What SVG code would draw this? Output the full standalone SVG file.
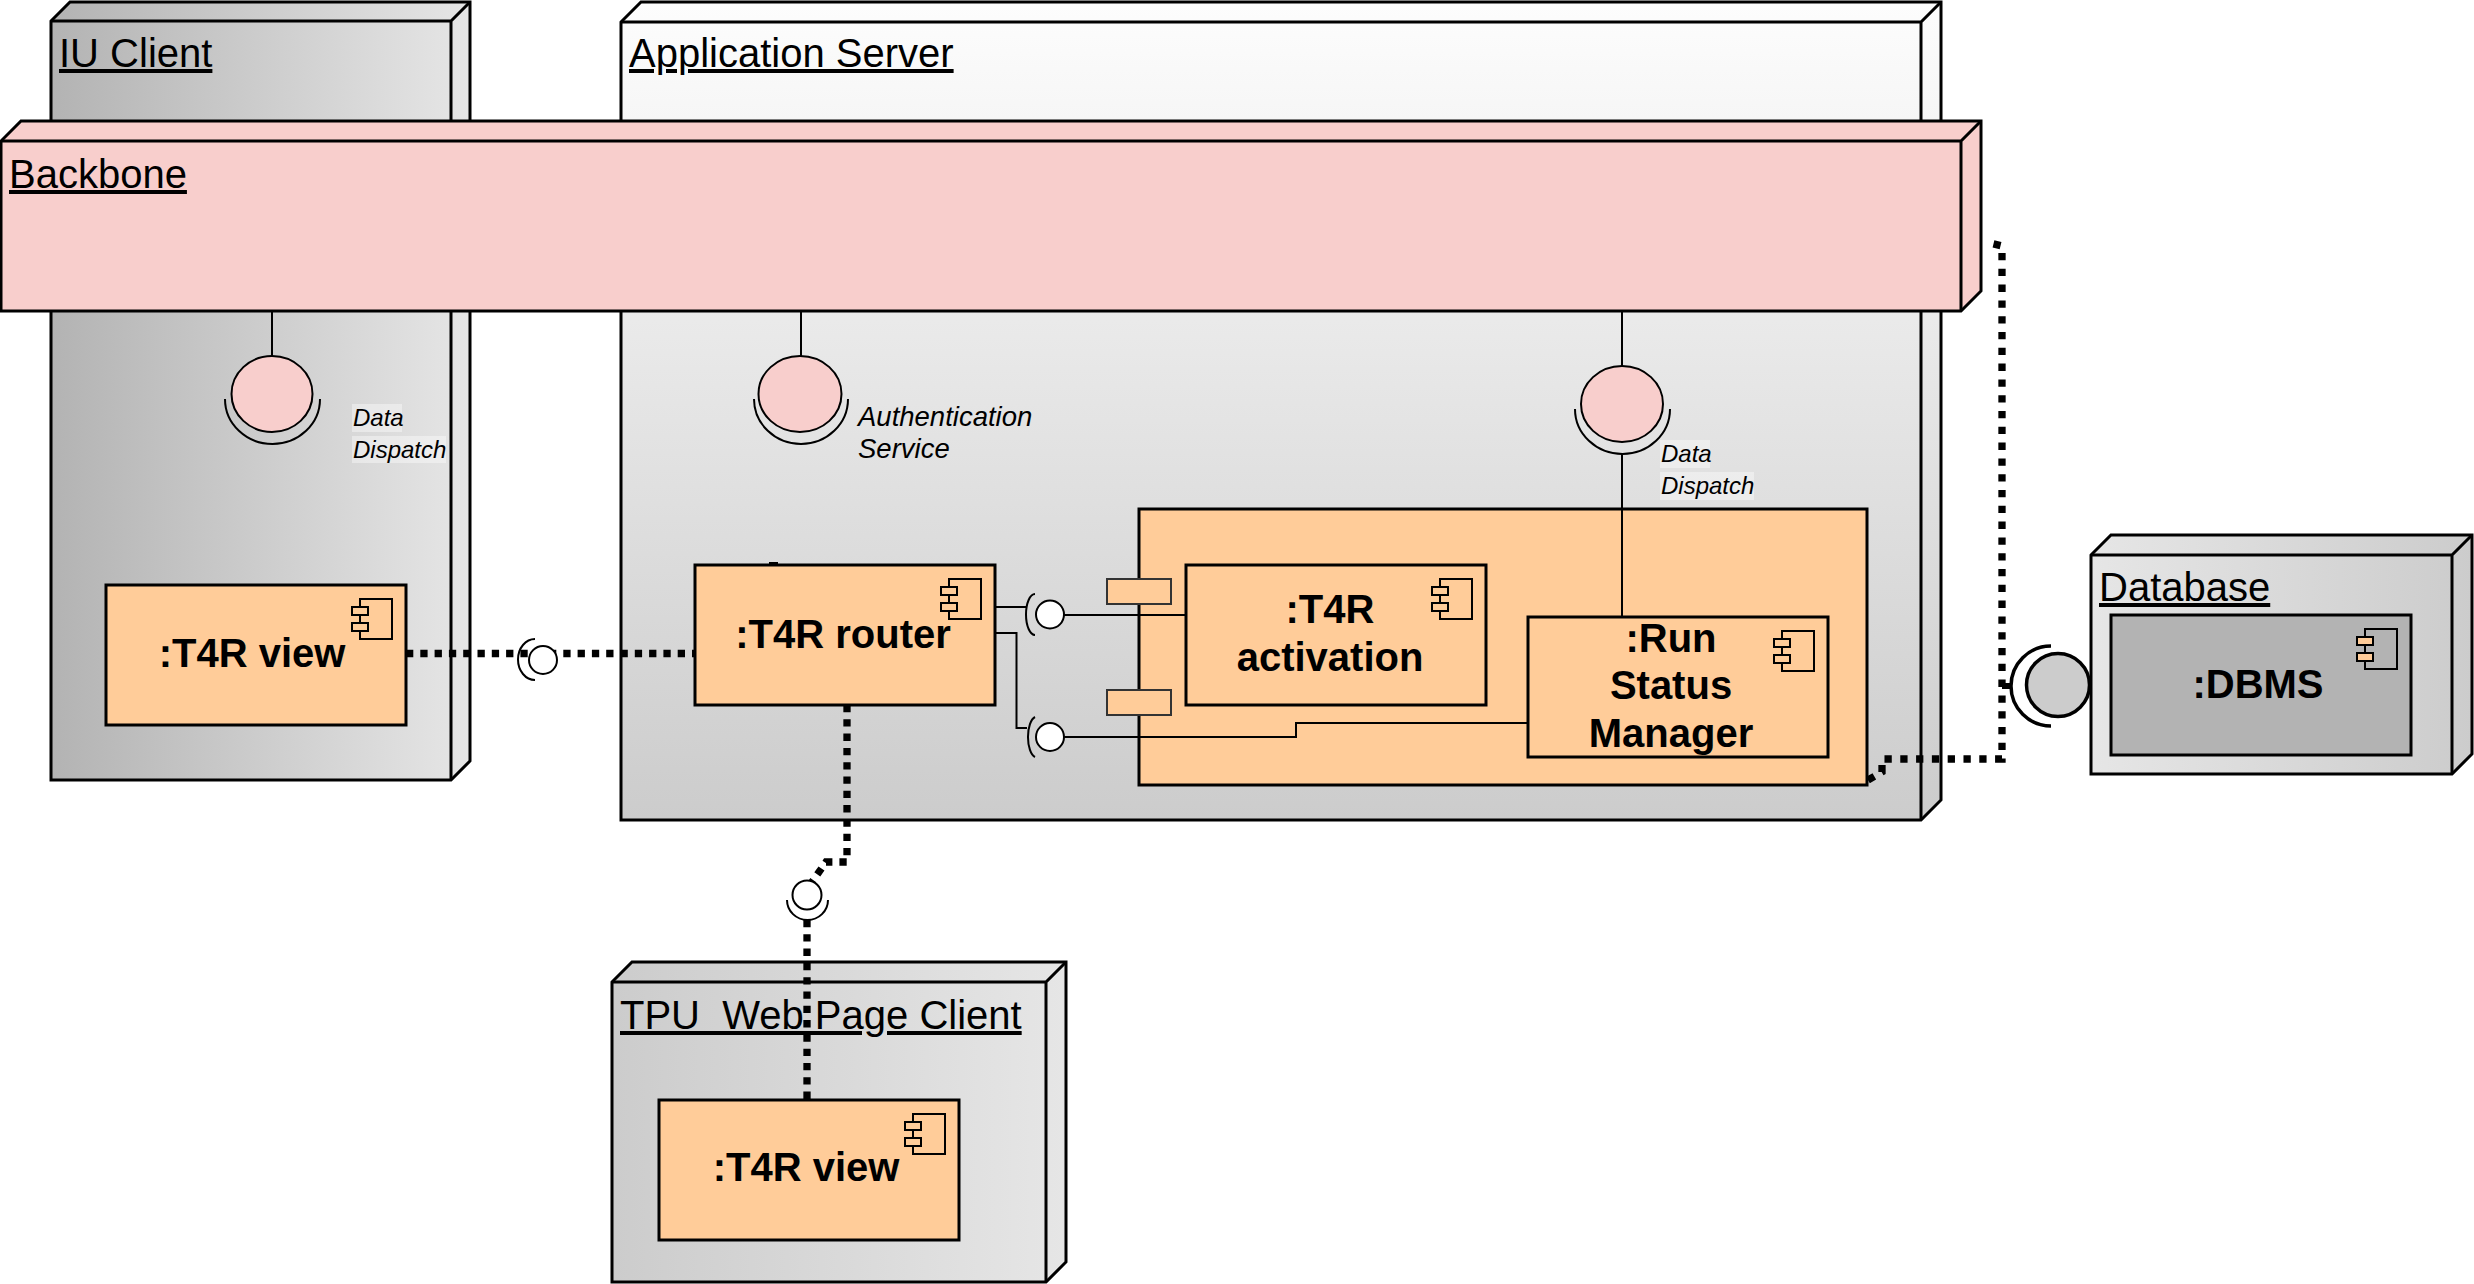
<svg xmlns="http://www.w3.org/2000/svg" width="2474" height="1284" viewBox="0 0 2474 1284">
<style>
.node{stroke:#000;stroke-width:3;stroke-linejoin:miter}
.inner{fill:none;stroke:#000;stroke-width:3}
.nlabel{font-family:"Liberation Sans",Arial,sans-serif;font-size:40px;text-decoration:underline;fill:#000}
.comp{fill:#ffcc99;stroke:#000;stroke-width:3}
.clabel{font-family:"Liberation Sans",Arial,sans-serif;font-size:40px;font-weight:bold;fill:#000;text-anchor:middle}
.ilabel{font-family:"Liberation Sans",Arial,sans-serif;font-size:24px;font-style:italic;fill:#000}
.lbg{fill:#ffffff;opacity:0.4}
.wire{fill:none;stroke:#000;stroke-width:2}
.dots{fill:none;stroke:#000;stroke-width:7.3;stroke-dasharray:7.3 7}
.sock{fill:none;stroke:#000;stroke-width:2}
.ballp{fill:#f8cecc;stroke:#000;stroke-width:2}
.ballw{fill:#ffffff;stroke:#000;stroke-width:2}
.port{fill:#ffcc99;stroke:#333;stroke-width:2}
.ico{fill:none;stroke:#000;stroke-width:2}
.icos{fill:#ffcc99;stroke:#000;stroke-width:2}
</style>
<defs>
<linearGradient id="gIU" x1="0" y1="0" x2="1" y2="0"><stop offset="0" stop-color="#b3b3b3"/><stop offset="1" stop-color="#e6e6e6"/></linearGradient>
<linearGradient id="gApp" x1="0" y1="0" x2="0" y2="1"><stop offset="0" stop-color="#fdfdfd"/><stop offset="1" stop-color="#cccccc"/></linearGradient>
<linearGradient id="gTPU" x1="0" y1="0" x2="1" y2="0"><stop offset="0" stop-color="#cccccc"/><stop offset="1" stop-color="#e6e6e6"/></linearGradient>
<linearGradient id="gDB" x1="0" y1="0" x2="1" y2="0"><stop offset="0" stop-color="#e6e6e6"/><stop offset="1" stop-color="#cccccc"/></linearGradient>
<g id="icon">
<rect class="ico" x="-46" y="14" width="32" height="40" fill="none"/>
<rect class="icos" x="-54" y="22" width="16" height="8"/>
<rect class="icos" x="-54" y="38" width="16" height="8"/>
</g>
</defs>

<g id="iu-client">
<path class="node" fill="url(#gIU)" d="M51,21 L70,2 L470,2 L470,761 L451,780 L51,780 Z"/>
<path class="inner" d="M51,21 L451,21 L470,2 M451,21 L451,780"/>
<text class="nlabel" x="59" y="67">IU Client</text>
</g>

<g id="app-server">
<path class="node" fill="url(#gApp)" d="M621,22 L641,2 L1941,2 L1941,800 L1921,820 L621,820 Z"/>
<path class="inner" d="M621,22 L1921,22 L1941,2 M1921,22 L1921,820"/>
<text class="nlabel" x="629" y="67">Application Server</text>
</g>

<g id="backbone">
<path class="node" fill="#f8cecc" d="M1,141 L21,121 L1981,121 L1981,291 L1961,311 L1,311 Z"/>
<path class="inner" d="M1,141 L1961,141 L1981,121 M1961,141 L1961,311"/>
<text class="nlabel" x="9" y="188">Backbone</text>
</g>

<g id="tpu-client">
<path class="node" fill="url(#gTPU)" d="M612,982 L632,962 L1066,962 L1066,1262 L1046,1282 L612,1282 Z"/>
<path class="inner" d="M612,982 L1046,982 L1066,962 M1046,982 L1046,1282"/>
<text class="nlabel" x="620" y="1029" xml:space="preserve">TPU  Web Page Client</text>
</g>

<g id="database">
<path class="node" fill="url(#gDB)" d="M2091,555 L2111,535 L2472,535 L2472,754 L2452,774 L2091,774 Z"/>
<path class="inner" d="M2091,555 L2452,555 L2472,535 M2452,555 L2452,774"/>
<text class="nlabel" x="2099" y="601">Database</text>
</g>

<g id="dbms">
<rect x="2111" y="615" width="300" height="140" fill="#b3b3b3" stroke="#000" stroke-width="3"/>
<use href="#icon" transform="translate(2411,615)"/>
<text class="clabel" x="2258" y="698">:DBMS</text>
</g>

<g id="iu-view">
<rect class="comp" x="106" y="585" width="300" height="140"/>
<use href="#icon" transform="translate(406,585)"/>
<text class="clabel" x="252" y="667">:T4R view</text>
</g>

<g id="tpu-view">
<rect class="comp" x="659" y="1100" width="300" height="140"/>
<use href="#icon" transform="translate(959,1100)"/>
<text class="clabel" x="806" y="1181">:T4R view</text>
</g>

<g id="container">
<rect class="comp" x="1139" y="509" width="728" height="276"/>
<rect class="port" x="1107" y="579" width="64" height="25"/>
<rect class="port" x="1107" y="690" width="64" height="25"/>
</g>

<g id="router">
<rect class="comp" x="695" y="565" width="300" height="140"/>
<use href="#icon" transform="translate(995,565)"/>
<text class="clabel" x="843" y="648">:T4R router</text>
</g>

<g id="activation">
<rect class="comp" x="1186" y="565" width="300" height="140"/>
<use href="#icon" transform="translate(1486,565)"/>
<text class="clabel" x="1330" y="623">:T4R</text>
<text class="clabel" x="1330" y="671">activation</text>
</g>

<g id="run-status-manager">
<rect class="comp" x="1528" y="617" width="300" height="140"/>
<use href="#icon" transform="translate(1828,617)"/>
<text class="clabel" x="1671" y="652">:Run</text>
<text class="clabel" x="1671" y="699">Status</text>
<text class="clabel" x="1671" y="747">Manager</text>
</g>

<g id="connectors">
<path class="wire" d="M272,311 L272,356"/>
<path class="sock" d="M225,399 A47.5,45 0 0 0 320,399"/>
<ellipse class="ballp" cx="272" cy="394" rx="40.5" ry="38"/>
<rect class="lbg" x="352" y="404" width="50" height="28"/>
<rect class="lbg" x="352" y="436" width="94" height="27"/>
<text class="ilabel" x="353" y="426">Data</text>
<text class="ilabel" x="353" y="458">Dispatch</text>

<path class="wire" d="M801,311 L801,356"/>
<path class="sock" d="M754,399 A47,45 0 0 0 848,399"/>
<ellipse class="ballp" cx="800" cy="394" rx="41.5" ry="38"/>
<text class="ilabel" x="858" y="426" style="font-size:27.5px">Authentication</text>
<text class="ilabel" x="858" y="458" style="font-size:27.5px">Service</text>

<path class="wire" d="M1622,311 L1622,366 M1622,454 L1622,617"/>
<path class="sock" d="M1575,409 A47.5,45 0 0 0 1670,409"/>
<ellipse class="ballp" cx="1622" cy="404" rx="41" ry="38"/>
<rect class="lbg" x="1660" y="440" width="50" height="28"/>
<rect class="lbg" x="1660" y="472" width="94" height="28"/>
<text class="ilabel" x="1661" y="462">Data</text>
<text class="ilabel" x="1661" y="494">Dispatch</text>

<path class="wire" d="M995,607 L1027,607"/>
<path class="sock" d="M1035,594 A9,20.5 0 0 0 1035,635"/>
<circle class="ballw" cx="1050" cy="614.5" r="14"/>
<path class="wire" d="M1064,615 L1186,615"/>

<path class="wire" d="M995,633 L1016.5,633 L1016.5,728 L1027,728"/>
<path class="sock" d="M1035,717 A9,20.5 0 0 0 1035,757"/>
<circle class="ballw" cx="1050" cy="737" r="14"/>
<path class="wire" d="M1064,737 L1296,737 L1296,723 L1528,723"/>

<path class="wire" d="M769,563 L778,563"/>

<path class="dots" d="M406,653.5 L695,653.5"/>
<path class="sock" d="M535,639 A17,20.5 0 0 0 535,680"/>
<circle class="ballw" cx="543" cy="660" r="14"/>

<path class="dots" d="M847,705 L847,862 L826,862 L812,882"/>
<path class="dots" d="M807,920 L807,1100"/>
<path class="sock" d="M787,900 A20.5,20 0 0 0 828,900"/>
<circle class="ballw" cx="807" cy="895" r="14.5"/>

<path class="dots" style="stroke-dasharray:7.3 8.5" d="M1868,780 L1882,772 L1882,759 L2002,759 L2002,246 L1988,242.5"/>
<path d="M2002,686 L2012,686" stroke="#000" stroke-width="6"/>
<path d="M2051,646 A40,40 0 0 0 2051,726" fill="none" stroke="#000" stroke-width="3.5"/>
<circle cx="2058" cy="685" r="31.5" fill="#cccccc" stroke="#000" stroke-width="3.5"/>
</g>
</svg>
